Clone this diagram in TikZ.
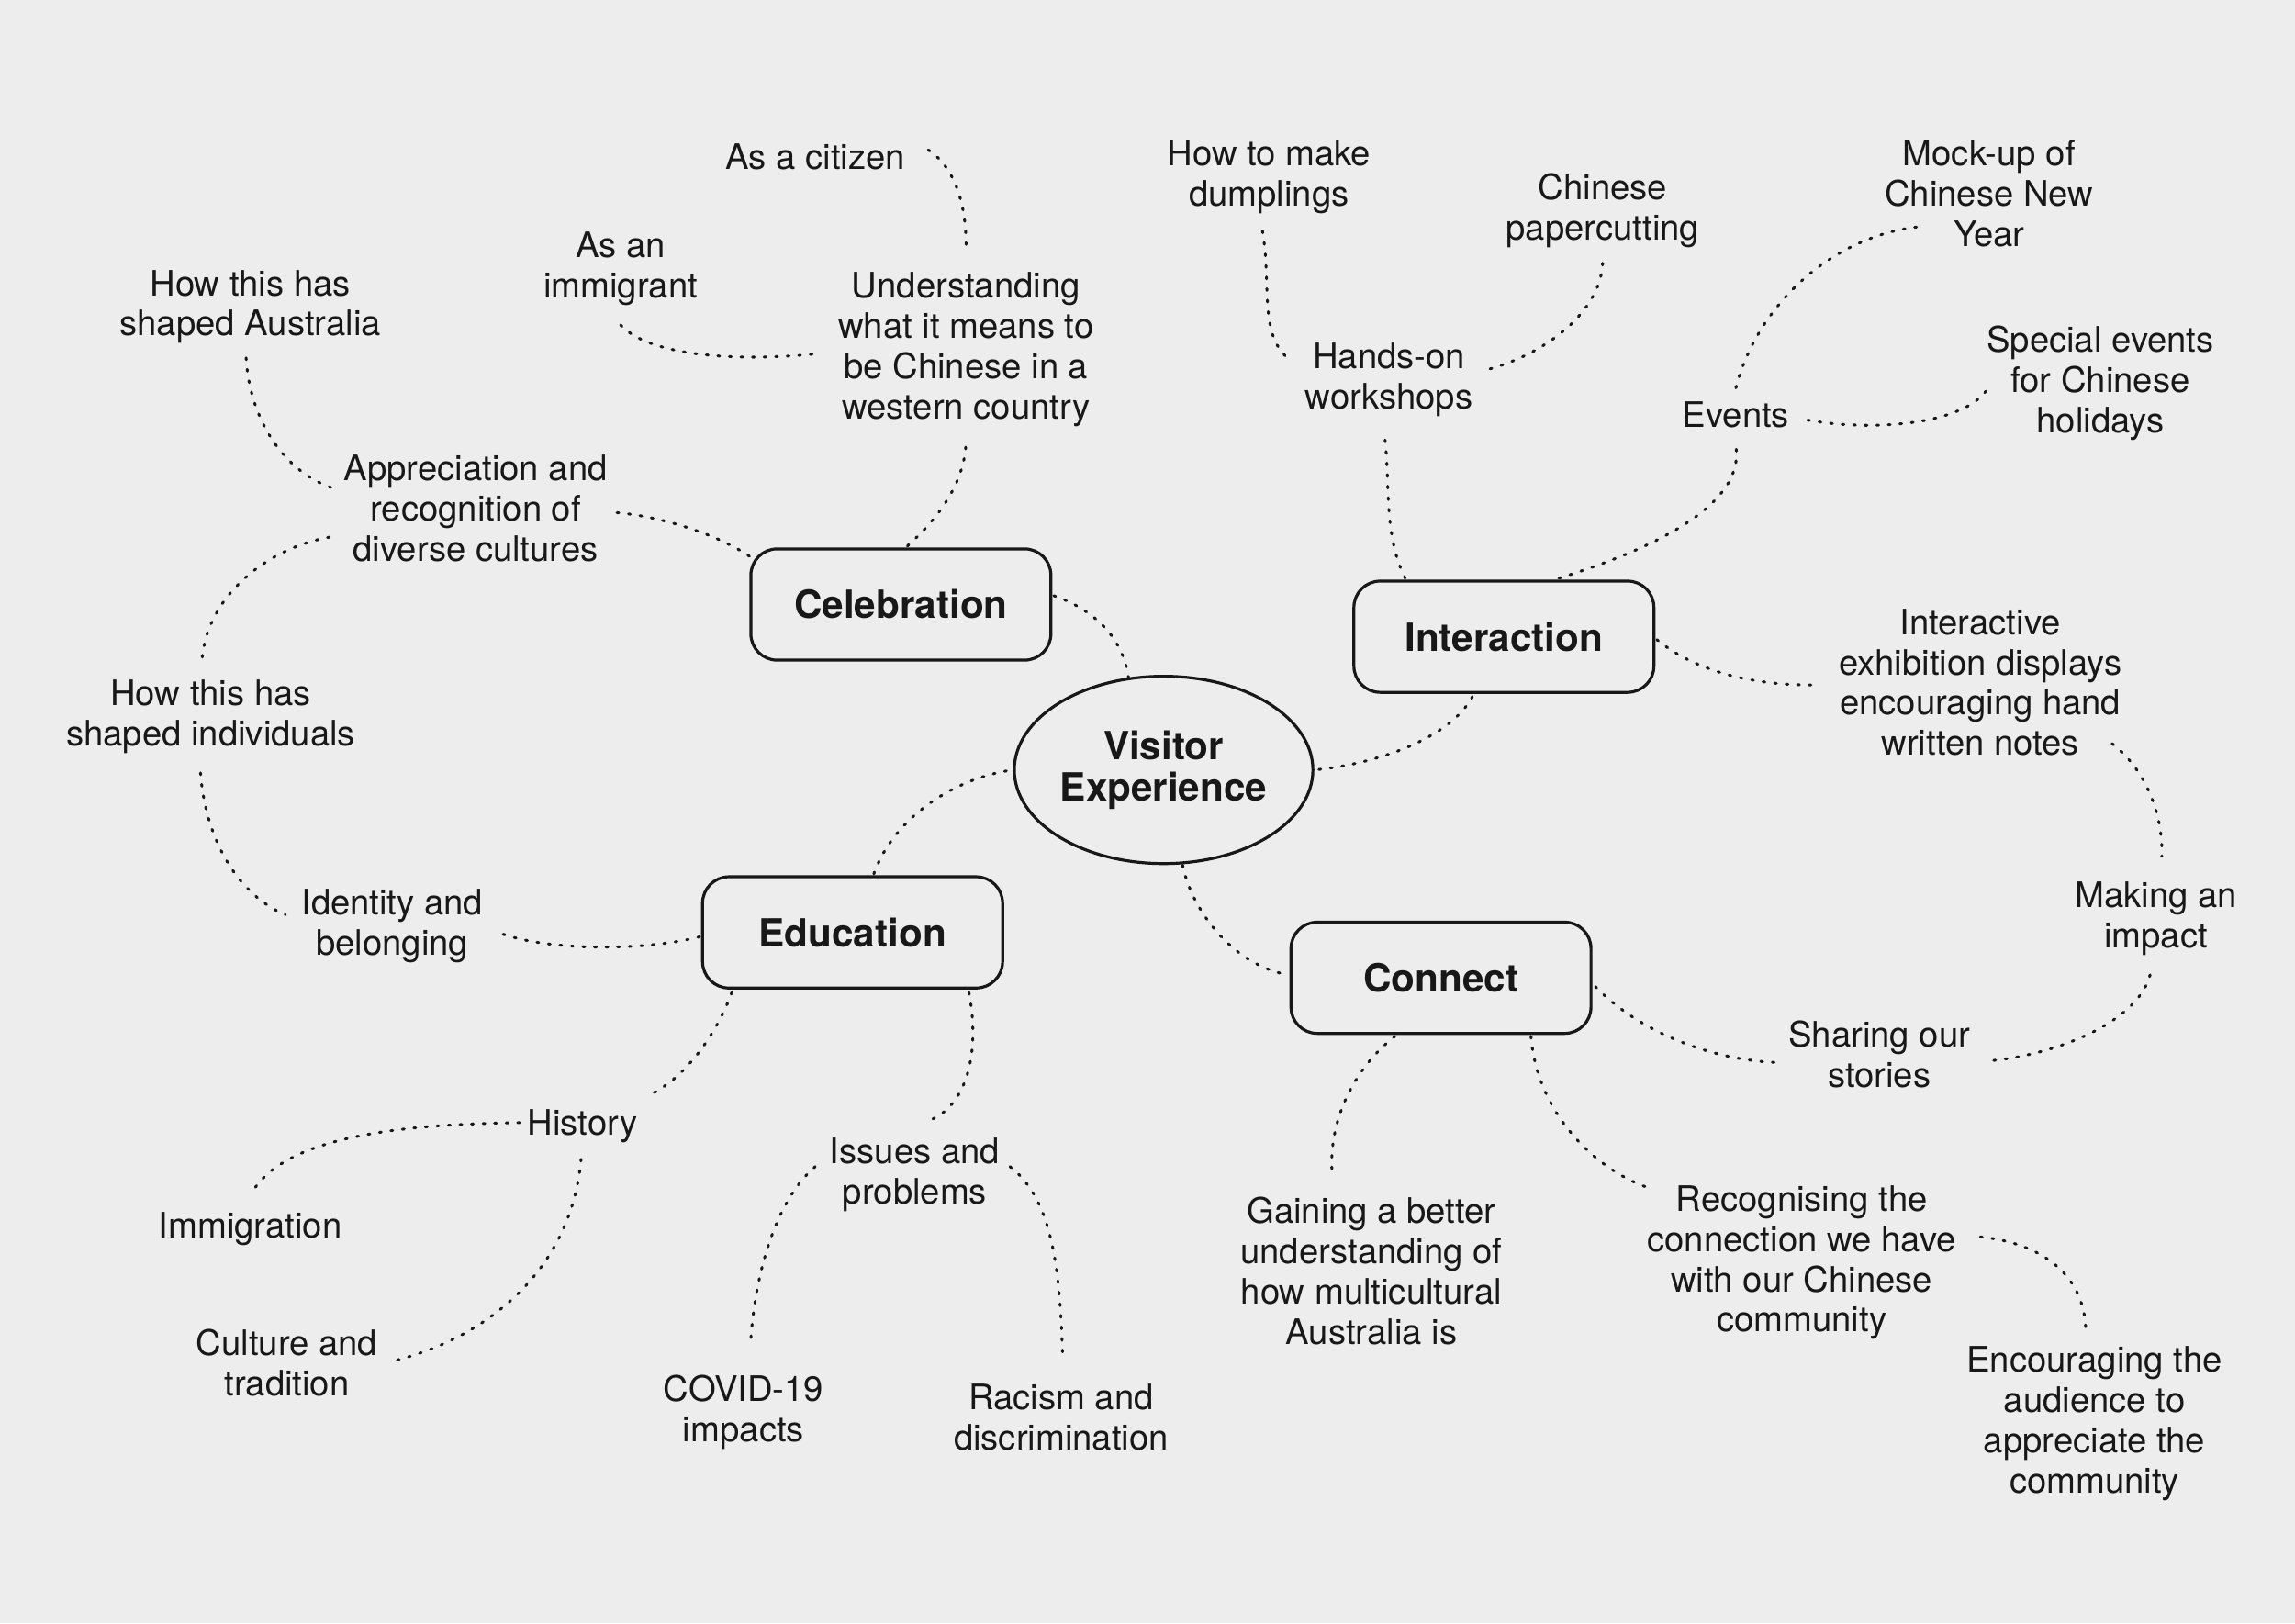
\documentclass[tikz,border=0pt]{standalone}
\usepackage{fontspec}
\setmainfont{TeX Gyre Heros}
\usetikzlibrary{calc,shapes.geometric}
\definecolor{bg}{RGB}{237,237,237}
\definecolor{ink}{RGB}{24,24,24}
\tikzset{
  lbl/.style={align=center,inner sep=0pt,text depth=0pt,text=ink,font=\fontsize{24}{27.5}\selectfont},
  hub/.style={draw=ink,line width=2pt,rounded corners=18pt,minimum width=205pt,minimum height=76pt,text=ink,font=\fontsize{26.5}{28}\selectfont\bfseries},
  core/.style={draw=ink,ellipse,line width=2pt,minimum width=204pt,minimum height=128pt,inner sep=0pt,align=center,text=ink,font=\fontsize{26.5}{28}\selectfont\bfseries},
  dotline/.style={draw=ink,line width=1.9pt,line cap=round,dash pattern=on 1.3pt off 6.6pt}
}
\begin{document}
\begin{tikzpicture}[x=1pt,y=-1pt]
\fill[bg] (0,0) rectangle (1568,1109);
\useasboundingbox (0,0) rectangle (1568,1109);

% main nodes
\node[core] (ve) at (795,526) {Visitor\\Experience};
\node[hub] (cel) at (615.5,413) {Celebration};
\node[hub] (int) at (1027.5,435) {Interaction};
\node[hub] (edu) at (582.5,637) {Education};
\node[hub] (con) at (984.5,668) {Connect};

% celebration branch
\node[lbl] (citizen) at (557,107) {As a citizen};
\node[lbl] (immig) at (424,181) {As an\\immigrant};
\node[lbl] (underst) at (660,236) {Understanding\\what it means to\\be Chinese in a\\western country};
\node[lbl] (shapedA) at (171,207) {How this has\\shaped Australia};
\node[lbl] (apprec) at (325,347) {Appreciation and\\recognition of\\diverse cultures};
\node[lbl] (shapedI) at (144,487) {How this has\\shaped individuals};
\node[lbl] (ident) at (268,630) {Identity and\\belonging};

% interaction branch
\node[lbl] (dump) at (867,118) {How to make\\dumplings};
\node[lbl] (paper) at (1095,141) {Chinese\\papercutting};
\node[lbl] (hands) at (949,257) {Hands-on\\workshops};
\node[lbl] (mock) at (1359,132) {Mock-up of\\Chinese New\\Year};
\node[lbl] (special) at (1435,259) {Special events\\for Chinese\\holidays};
\node[lbl] (events) at (1186,283) {Events};
\node[lbl] (displays) at (1353,466) {Interactive\\exhibition displays\\encouraging hand\\written notes};

% connect branch
\node[lbl] (impact) at (1473,625) {Making an\\impact};
\node[lbl] (sharing) at (1284,720) {Sharing our\\stories};
\node[lbl] (gaining) at (937,868) {Gaining a better\\understanding of\\how multicultural\\Australia is};
\node[lbl] (recog) at (1231,860) {Recognising the\\connection we have\\with our Chinese\\community};
\node[lbl] (encour) at (1431,970) {Encouraging the\\audience to\\appreciate the\\community};

% education branch
\node[lbl] (history) at (398,767) {History};
\node[lbl] (immigration) at (171,837) {Immigration};
\node[lbl] (culture) at (196,931) {Culture and\\tradition};
\node[lbl] (issues) at (625,800) {Issues and\\problems};
\node[lbl] (covid) at (508,962) {COVID-19\\impacts};
\node[lbl] (racism) at (725,968) {Racism and\\discrimination};

% hub to core
\draw[dotline] ($(cel)+(104.5,-6)$) .. controls +(32,11) and +(-3,-23) .. ($(ve)+(-24,-63)$);
\draw[dotline] ($(int)+(-21.5,41)$) .. controls +(-16,29) and +(42,-4) .. ($(ve)+(103,0)$);
\draw[dotline] ($(edu)+(14.5,-40)$) .. controls +(13,-37) and +(-42,6) .. ($(ve)+(-103,0)$);
\draw[dotline] ($(ve)+(13,65)$) .. controls +(7,34) and +(-35,-6) .. ($(con)+(-104.5,-2)$);

% celebration
\draw[dotline] ($(cel)+(4.5,-40)$) .. controls +(20,-18) and +(0,30) .. ($(underst)+(0,64)$);
\draw[dotline] ($(underst)+(0,-69)$) .. controls +(0,-32) and +(20,10) .. ($(citizen)+(73,-7)$);
\draw[dotline] ($(immig)+(0,41)$) .. controls +(16,18) and +(-65,6) .. ($(underst)+(-105,6)$);
\draw[dotline] ($(cel)+(-103.5,-33)$) .. controls +(-22,-15) and +(32,2) .. ($(apprec)+(93,3)$);
\draw[dotline] ($(apprec)+(-99,-14)$) .. controls +(-36,-13) and +(0,42) .. ($(shapedA)+(-3,31)$);
\draw[dotline] ($(apprec)+(-100,20)$) .. controls +(-45,8) and +(2,-42) .. ($(shapedI)+(-6,-35)$);
\draw[dotline] ($(shapedI)+(-7,41)$) .. controls +(3,42) and +(-35,-15) .. ($(ident)+(-73,-5)$);
\draw[dotline] ($(edu)+(-104.5,3)$) .. controls +(-38,10) and +(32,14) .. ($(ident)+(70,6)$);

% education
\draw[dotline] ($(edu)+(-82.5,41)$) .. controls +(-10,27) and +(26,-13) .. ($(history)+(46,-19)$);
\draw[dotline] ($(history)+(-43,0)$) .. controls +(-75,1) and +(23,-40) .. ($(immigration)+(1,-22)$);
\draw[dotline] ($(history)+(-1,25)$) .. controls +(-7,78) and +(62,-15) .. ($(culture)+(72,-1)$);
\draw[dotline] ($(edu)+(79.5,41)$) .. controls +(8,42) and +(24,-10) .. ($(issues)+(11,-35)$);
\draw[dotline] ($(issues)+(-68,-3)$) .. controls +(-27,23) and +(3,-45) .. ($(covid)+(5,-47)$);
\draw[dotline] ($(issues)+(65,-3)$) .. controls +(30,23) and +(-2,-55) .. ($(racism)+(1,-43)$);

% interaction
\draw[dotline] ($(int)+(-67.5,-40)$) .. controls +(-15,-30) and +(4,32) .. ($(hands)+(-3,41)$);
\draw[dotline] ($(hands)+(-71,-14)$) .. controls +(-18,-18) and +(7,35) .. ($(dump)+(-5,37)$);
\draw[dotline] ($(hands)+(69,-5)$) .. controls +(42,-12) and +(0,32) .. ($(paper)+(0,37)$);
\draw[dotline] ($(int)+(37.5,-40)$) .. controls +(65,-20) and +(6,40) .. ($(events)+(0,22)$);
\draw[dotline] ($(events)+(0,-18)$) .. controls +(14,-55) and +(-60,7) .. ($(mock)+(-49,23)$);
\draw[dotline] ($(events)+(49,4)$) .. controls +(45,8) and +(-17,23) .. ($(special)+(-78,8)$);
\draw[dotline] ($(int)+(104.5,2)$) .. controls +(28,23) and +(-38,0) .. ($(displays)+(-115,2)$);

% connect
\draw[dotline] ($(displays)+(90,42)$) .. controls +(22,17) and +(1,-30) .. ($(impact)+(4,-40)$);
\draw[dotline] ($(impact)+(-4,41)$) .. controls +(-9,34) and +(44,-3) .. ($(sharing)+(72,5)$);
\draw[dotline] ($(con)+(105.5,6)$) .. controls +(30,31) and +(-47,-1) .. ($(sharing)+(-67,6)$);
\draw[dotline] ($(con)+(-31.5,40)$) .. controls +(-28,22) and +(-2,-35) .. ($(gaining)+(-27,-68)$);
\draw[dotline] ($(con)+(61.5,40)$) .. controls +(4,52) and +(-38,-12) .. ($(recog)+(-103,-48)$);
\draw[dotline] ($(recog)+(122,-15)$) .. controls +(47,5) and +(0,-35) .. ($(encour)+(-6,-60)$);
\end{tikzpicture}
\end{document}
